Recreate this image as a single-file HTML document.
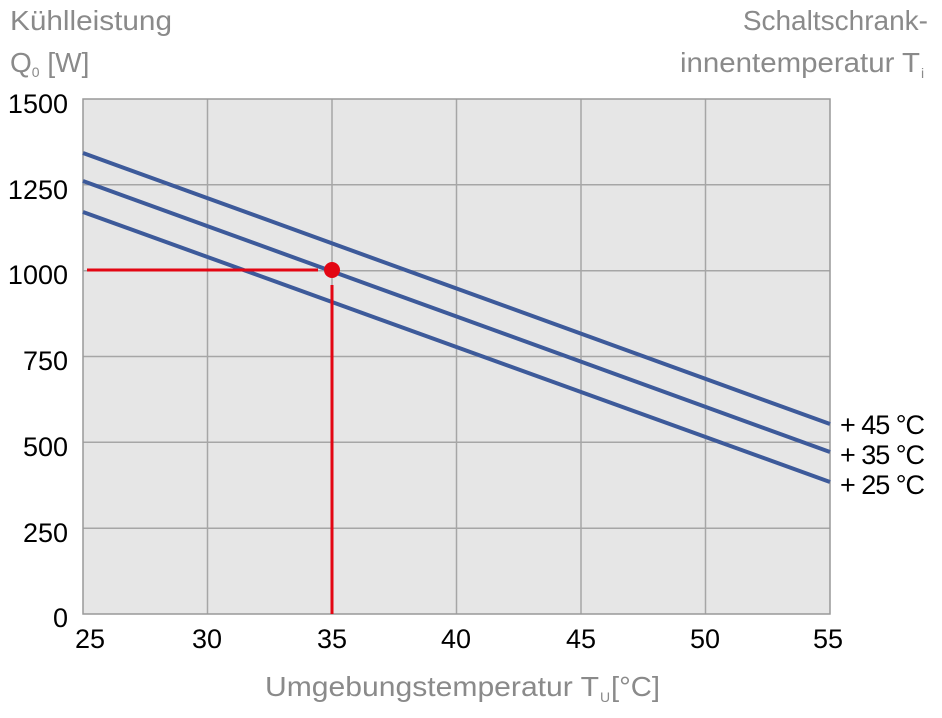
<!DOCTYPE html>
<html><head><style>body{margin:0;background:#fff}</style></head><body>
<svg width="942" height="713" xmlns="http://www.w3.org/2000/svg" font-family="Liberation Sans, sans-serif">
<rect x="83" y="99" width="747" height="515" fill="#e6e6e6"/>
<g stroke="#a6a6a6" stroke-width="1.5">
<line x1="207.5" y1="99" x2="207.5" y2="614"/><line x1="332" y1="99" x2="332" y2="614"/>
<line x1="456.5" y1="99" x2="456.5" y2="614"/><line x1="581" y1="99" x2="581" y2="614"/>
<line x1="705.5" y1="99" x2="705.5" y2="614"/>
<line x1="83" y1="184.8" x2="830" y2="184.8"/><line x1="83" y1="270.7" x2="830" y2="270.7"/>
<line x1="83" y1="356.5" x2="830" y2="356.5"/><line x1="83" y1="442.3" x2="830" y2="442.3"/>
<line x1="83" y1="528.2" x2="830" y2="528.2"/>
</g>
<rect x="83" y="99" width="747" height="515" fill="none" stroke="#999" stroke-width="1.5"/>
<g stroke="#3d5a9a" stroke-width="4">
<line x1="83" y1="153" x2="830" y2="424"/>
<line x1="83" y1="181" x2="830" y2="452"/>
<line x1="83" y1="212" x2="830" y2="482"/>
</g>
<g stroke="#e30613" stroke-width="3">
<line x1="87" y1="270" x2="318" y2="270"/>
<line x1="332" y1="285" x2="332" y2="614"/>
</g>
<circle cx="332" cy="270" r="8" fill="#e30613"/>
<g font-size="27" fill="#000" text-anchor="end">
<text x="68" y="113">1500</text><text x="68" y="199">1250</text><text x="68" y="284">1000</text>
<text x="68" y="370">750</text><text x="68" y="456">500</text><text x="68" y="542">250</text><text x="68" y="627">0</text>
</g>
<g font-size="27" fill="#000" text-anchor="middle">
<text x="90" y="648">25</text><text x="207" y="648">30</text><text x="332" y="648">35</text>
<text x="456" y="648">40</text><text x="581" y="648">45</text><text x="705" y="648">50</text><text x="828" y="648">55</text>
</g>
<g font-size="27" fill="#000">
<text x="840" y="434" textLength="85">+ 45 °C</text><text x="840" y="464" textLength="85">+ 35 °C</text><text x="840" y="494" textLength="85">+ 25 °C</text>
</g>
<g font-size="28" fill="#8a8a8a">
<text x="10" y="30" textLength="162" lengthAdjust="spacingAndGlyphs">Kühlleistung</text>
<text x="10" y="72">Q<tspan font-size="14" dy="5">0</tspan><tspan dy="-5"> [W]</tspan></text>
<text x="928" y="30" text-anchor="end">Schaltschrank-</text>
<text x="680" y="72" textLength="240" lengthAdjust="spacingAndGlyphs">innentemperatur T</text><text x="921" y="78" font-size="14">i</text>
<text x="265" y="696" textLength="334" lengthAdjust="spacingAndGlyphs">Umgebungstemperatur T</text><text x="600" y="702" font-size="14">U</text><text x="611" y="696" textLength="49" lengthAdjust="spacingAndGlyphs">[°C]</text>
</g>
</svg>
</body></html>
